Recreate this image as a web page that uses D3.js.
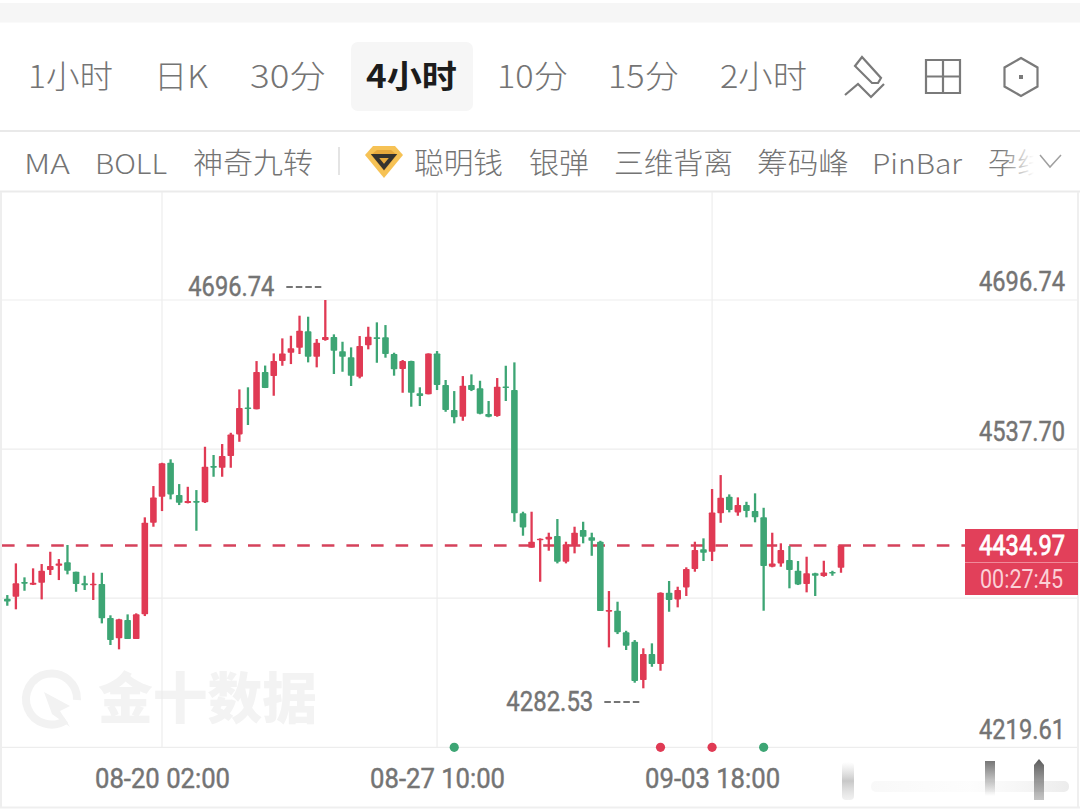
<!DOCTYPE html>
<html><head><meta charset="utf-8">
<script src="https://cdn.jsdelivr.net/npm/d3@7/dist/d3.min.js"></script>
<style>html,body{margin:0;padding:0;background:#fff}svg{display:block}</style>
</head><body><svg id="c" width="1080" height="810"></svg>
<script>
const opens=[4378.1,4380.2,4395.9,4393.0,4395.1,4408.7,4413.3,4416.9,4406.9,4394.5,4392.4,4393.8,4357.5,4335.8,4355.4,4335.1,4361.4,4459.1,4486.9,4523.1,4488.7,4480.2,4482.3,4480.9,4519.6,4517.8,4530.3,4553.4,4582.2,4580.1,4619.9,4615.6,4631.6,4640.5,4645.8,4663.3,4636.2,4654.0,4657.2,4642.0,4635.6,4614.9,4648.4,4656.9,4656.9,4639.1,4623.1,4631.6,4597.2,4596.1,4639.8,4606.0,4579.4,4572.2,4606.0,4602.5,4575.1,4573.0,4604.6,4600.7,4469.2,4432.5,4440.7,4441.4,4445.0,4417.5,4435.4,4451.4,4443.6,4438.9,4365.0,4365.3,4342.2,4332.2,4291.4,4319.1,4308.4,4384.5,4377.4,4390.2,4409.8,4430.8,4428.2,4469.2,4486.9,4470.2,4478.0,4471.6,4464.9,4412.2,4415.8,4419.4,4407.9,4393.8,4405.2,4402.3,4406.6,4411.1];
const closes=[4375.1,4394.5,4394.3,4395.1,4407.9,4413.0,4415.8,4407.9,4393.8,4392.4,4394.1,4357.2,4334.0,4356.1,4335.1,4361.4,4459.1,4486.2,4522.5,4489.4,4480.5,4482.3,4481.2,4518.9,4518.6,4530.3,4553.4,4581.5,4580.4,4619.9,4602.8,4631.6,4639.8,4645.2,4664.0,4636.2,4651.2,4657.2,4642.6,4636.2,4616.0,4647.6,4657.6,4655.8,4639.1,4622.8,4631.6,4597.8,4594.3,4639.6,4606.0,4579.4,4571.6,4605.3,4600.7,4575.4,4572.2,4604.2,4603.6,4469.2,4454.2,4438.9,4442.1,4444.2,4417.5,4436.1,4448.5,4444.2,4439.9,4365.0,4366.0,4342.2,4327.9,4290.3,4319.1,4308.4,4384.5,4376.7,4387.4,4409.8,4430.0,4427.1,4470.2,4485.8,4472.7,4478.0,4471.6,4464.9,4413.0,4415.8,4430.0,4408.7,4393.4,4405.2,4402.6,4406.2,4405.2,4434.97];
const highs=[4382.0,4415.8,4400.9,4410.5,4415.1,4428.2,4420.4,4435.4,4406.9,4402.6,4405.8,4405.8,4360.4,4356.7,4361.4,4362.5,4464.9,4498.3,4523.1,4526.8,4500.4,4497.5,4494.0,4540.2,4531.4,4543.1,4555.1,4601.4,4603.6,4631.6,4626.8,4639.8,4655.8,4658.6,4680.0,4678.9,4655.1,4696.74,4660.1,4652.2,4646.2,4658.3,4668.2,4672.9,4670.0,4640.5,4632.7,4632.0,4603.6,4639.8,4642.3,4611.4,4599.6,4615.6,4617.4,4610.6,4589.0,4613.5,4626.6,4630.2,4470.9,4470.9,4442.5,4448.5,4463.1,4438.9,4454.9,4460.2,4448.5,4439.9,4386.3,4374.9,4343.9,4334.0,4325.2,4330.5,4384.9,4397.0,4390.9,4411.6,4438.9,4442.5,4495.1,4510.0,4489.4,4486.2,4481.5,4490.5,4475.1,4448.5,4437.2,4434.3,4418.3,4422.9,4405.8,4418.6,4407.9,4435.4];
const lows=[4370.6,4366.8,4386.6,4392.7,4377.4,4403.4,4398.0,4404.1,4385.5,4387.4,4376.7,4351.8,4328.7,4324.1,4335.1,4335.1,4359.6,4454.9,4471.6,4484.1,4478.0,4479.8,4450.6,4480.2,4508.2,4508.2,4517.8,4545.5,4563.4,4580.1,4602.8,4594.6,4626.6,4628.4,4639.1,4630.2,4624.9,4653.3,4617.8,4620.2,4605.0,4613.2,4644.1,4629.8,4635.2,4616.0,4597.8,4582.9,4583.6,4596.1,4600.7,4577.5,4565.2,4567.9,4599.6,4574.8,4571.6,4572.2,4589.0,4460.2,4445.3,4432.5,4396.2,4429.3,4415.8,4415.8,4426.5,4437.2,4423.9,4365.0,4326.2,4340.4,4323.4,4288.5,4282.53,4305.5,4301.3,4364.2,4368.9,4381.0,4406.9,4418.3,4418.3,4459.1,4470.2,4466.6,4464.9,4459.6,4365.3,4411.6,4412.2,4389.2,4392.7,4384.9,4381.0,4401.5,4402.6,4405.8];
const gridPrices=[4696.74,4537.70,4378.66,4219.61];
const priceLabels=[4696.74,4537.70,4219.61];
const dateIndex=[18,50,82];
const dateLabels=["08-20 02:00","08-27 10:00","09-03 18:00"];
const dotIndex=[52,76,82,88];
const dotKinds=["down","up","up","down"];
const lastPrice=4434.97, countdown="00:27:45", maxPrice=4696.74, minPrice=4282.53, maxIndex=37, minIndex=74;
const tabs=["1小时","日K","30分","4小时","10分","15分","2小时"];
const tabSpans=[[28,113],[154,208],[250,326],[366,457],[497,568],[608,679],[720,807]];
const activeTab=3;
const tools=["MA","BOLL","神奇九转","聪明钱","银弹","三维背离","筹码峰","PinBar"];
const toolSpans=[[24,70],[95,167],[193,313],[414,503],[529,589],[614,733],[757,849],[872,962]];

const RED="#e03a54",GREEN="#3da574",GREY="#747474",GRID="#ededed";
const CN='"Noto Sans CJK SC","Noto Sans",sans-serif', NUM='"Liberation Sans Narrow","Roboto",sans-serif';
const svg=d3.select("#c");
const defs=svg.append("defs");
const grad=(id,x1,x2,y1,y2,stops)=>{const g=defs.append("linearGradient").attr("id",id).attr("gradientUnits","userSpaceOnUse").attr("x1",x1).attr("x2",x2).attr("y1",y1).attr("y2",y2);stops.forEach(s=>g.append("stop").attr("offset",s[0]).attr("stop-color",s[1]).attr("stop-opacity",s[2]));};
grad("fade",1002,1034,0,0,[[0,"#787878",1],[1,"#787878",0]]);
grad("bar1",0,0,759,796,[[0,"#6f6f6f",1],[1,"#6f6f6f",0]]);
grad("bar2",0,0,759,800,[[0,"#5a5a5a",1],[1,"#8a8a8a",.5]]);
grad("pill",871,1069,0,0,[[0,"#f4f4f4",.6],[.5,"#f9f9f9",.4],[1,"#ececec",1]]);
grad("ubar",0,0,762,800,[[0,"#d4d4d4",0],[.5,"#c8c8c8",1],[1,"#e8e8e8",.6]]);

const rect=(x,y,w,h,f,r)=>svg.append("rect").attr("x",x).attr("y",y).attr("width",w).attr("height",h).attr("fill",f).attr("rx",r||0);
rect(0,3,1080,19.5,"#f6f6f6");
rect(0,130,1080,2,"#e9e9e9");
rect(0,190.5,1080,2,"#ebebeb");
rect(351,42,122,69,"#f6f6f6",7);
function fit(g,t,span,y,size,opts){opts=opts||{};
  return g.append("text").attr("x",span[0]).attr("y",y).text(t).attr("font-size",size).attr("font-family",opts.font||CN)
   .attr("font-weight",opts.weight||300).attr("fill",opts.fill||GREY)
   .attr("textLength",span[1]-span[0]).attr("lengthAdjust","spacingAndGlyphs");}
const hdr=svg.append("g");
tabs.forEach((t,i)=>fit(hdr,t,tabSpans[i],88,32,i===activeTab?{weight:700,fill:"#1c1c1c"}:{}));
tools.forEach((t,i)=>fit(hdr,t,toolSpans[i],174,t==="MA"||t==="BOLL"||t==="PinBar"?27:29));
hdr.append("text").attr("x",988).attr("y",174).text("孕线").attr("font-size",29).attr("font-family",CN).attr("font-weight",300).attr("fill","url(#fade)");
rect(338,147,2,28,"#e4e4e4");
const ic=svg.append("g").attr("fill","none").attr("stroke","#7a7a7a").attr("stroke-width",2.2).attr("stroke-linejoin","miter");
ic.append("path").attr("d","M855 66L862 57L881 78L878 83L872 83Z");
ic.append("path").attr("d","M845 95L858 84L871 97L884 84");
ic.append("path").attr("d","M926 60H960V93H926ZM943 60V93M926 76.5H960");
ic.append("path").attr("d","M1021 58L1037.5 67.5V86.5L1021 96L1004.5 86.5V67.5Z");
rect(1019,75,4,4,"#7a7a7a");
svg.append("path").attr("d","M1040 155L1050 167L1061 155").attr("fill","none").attr("stroke","#a0a0a0").attr("stroke-width",1.5);
const dm=svg.append("g");
dm.append("path").attr("d","M373 146H395L403 155L384 178L365 155Z").attr("fill","#f6c255");
dm.append("path").attr("d","M377 150H391L397 155L384 171L371 155Z").attr("fill","#e8a93c");
dm.append("path").attr("d","M375 156H393L384 167Z").attr("fill","none").attr("stroke","#35332f").attr("stroke-width",4);

const x=d3.scalePoint().domain(d3.range(opens.length)).range([7.3,841]);
const y=d3.scaleLinear().domain([4219.61,4696.74]).range([747.3,300]);

rect(0,192,2,616,"#eeeeee");
rect(1077,192,2,616,"#efefef");
rect(0,806.5,1080,2,"#efefef");

const wm=svg.append("g");
wm.append("path").attr("d","M66 720A25.5 25.5 0 1 1 77 700").attr("fill","none").attr("stroke","#f2f2f2").attr("stroke-width",8);
wm.append("path").attr("d","M44 692L70 706L60 711L70 727L52 714Z").attr("fill","#f2f2f2");
wm.append("text").attr("x",98).attr("y",718).text("金十数据").attr("font-family",CN).attr("font-weight",900).attr("font-size",55).attr("fill","#f3f3f3").attr("textLength",219).attr("lengthAdjust","spacingAndGlyphs");

svg.append("g").selectAll("line").data(gridPrices).join("line").attr("x1",2).attr("x2",1077).attr("y1",d=>y(d)).attr("y2",d=>y(d)).attr("stroke",GRID).attr("stroke-width",1.2);
svg.append("g").selectAll("line").data(dateIndex).join("line").attr("x1",d=>x(d)).attr("x2",d=>x(d)).attr("y1",192).attr("y2",y(4219.61)).attr("stroke",GRID).attr("stroke-width",1.2);

svg.append("line").attr("x1",2).attr("x2",965).attr("y1",y(lastPrice)).attr("y2",y(lastPrice)).attr("stroke","#d5425b").attr("stroke-width",2.5).attr("stroke-dasharray","12.6 12");

const cs=d3.range(opens.length).map(i=>({i,o:opens[i],c:closes[i],h:highs[i],l:lows[i],up:closes[i]>=opens[i]}));
const cg=svg.append("g").selectAll("g").data(cs).join("g").attr("fill",d=>d.up?RED:GREEN).attr("stroke",d=>d.up?RED:GREEN);
cg.append("line").attr("x1",d=>x(d.i)).attr("x2",d=>x(d.i)).attr("y1",d=>y(d.h)).attr("y2",d=>y(d.l)).attr("stroke-width",2.3);
cg.append("rect").attr("x",d=>x(d.i)-3.3).attr("width",6.6).attr("y",d=>y(Math.max(d.o,d.c))).attr("height",d=>Math.max(1.6,Math.abs(y(d.o)-y(d.c)))).attr("stroke","none").attr("rx",.8);

const heavy=s=>s.attr("stroke",GREY).attr("stroke-width",.45);
const yAxis=d3.axisLeft(y).tickValues(priceLabels).tickSize(0).tickPadding(0).tickFormat(d3.format(".2f"));
const ya=svg.append("g").attr("transform","translate(1065,-18)").call(yAxis);
ya.select(".domain").remove();
heavy(ya.selectAll("text").attr("font-family",NUM).attr("font-size",28).attr("fill",GREY).attr("textLength",86).attr("lengthAdjust","spacingAndGlyphs"));
const xAxis=d3.axisBottom(x).tickValues(dateIndex).tickSize(0).tickPadding(0).tickFormat((d,k)=>dateLabels[k]);
const xa=svg.append("g").attr("transform","translate(0,767)").call(xAxis);
xa.select(".domain").remove();
heavy(xa.selectAll("text").attr("font-family",NUM).attr("font-size",28).attr("fill",GREY).attr("dy",0).attr("y",0).attr("dominant-baseline","hanging").attr("textLength",135).attr("lengthAdjust","spacingAndGlyphs"));

svg.append("g").selectAll("circle").data(dotIndex).join("circle").attr("cx",d=>x(d)).attr("cy",y(4219.61)).attr("r",4.6).attr("fill",(d,k)=>dotKinds[k]==="up"?RED:GREEN);

const ann=svg.append("g").attr("font-family",NUM).attr("font-size",28).attr("fill",GREY).attr("stroke",GREY).attr("stroke-width",.45);
ann.append("text").attr("x",x(maxIndex)-137).attr("y",296).text(d3.format(".2f")(maxPrice)).attr("textLength",86).attr("lengthAdjust","spacingAndGlyphs");
ann.append("text").attr("x",x(minIndex)-137).attr("y",711).text(d3.format(".2f")(minPrice)).attr("textLength",87).attr("lengthAdjust","spacingAndGlyphs");
svg.append("line").attr("x1",x(maxIndex)-39).attr("x2",x(maxIndex)-3).attr("y1",287).attr("y2",287).attr("stroke",GREY).attr("stroke-width",2).attr("stroke-dasharray","6.5 3");
svg.append("line").attr("x1",x(minIndex)-39).attr("x2",x(minIndex)-3).attr("y1",702).attr("y2",702).attr("stroke",GREY).attr("stroke-width",2).attr("stroke-dasharray","6.5 3");

rect(965,529,113,66,"#e2405a");
rect(965,562,113,1,"#f08a9a");
svg.append("text").attr("x",979).attr("y",555).text(d3.format(".2f")(lastPrice)).attr("font-family",NUM).attr("font-size",28).attr("fill","#fff").attr("stroke","#fff").attr("stroke-width",.8).attr("textLength",86).attr("lengthAdjust","spacingAndGlyphs");
svg.append("text").attr("x",980).attr("y",588).text(countdown).attr("font-family",NUM).attr("font-size",26).attr("fill","#fbd0d7").attr("textLength",83).attr("lengthAdjust","spacingAndGlyphs");

rect(871,781,198,11,"url(#pill)",5);
rect(842,762,12,38,"url(#ubar)",4);
rect(985,761,10,36,"url(#bar1)");
svg.append("path").attr("d","M1039 759L1044 765V800H1034V765Z").attr("fill","url(#bar2)");
</script></body></html>
